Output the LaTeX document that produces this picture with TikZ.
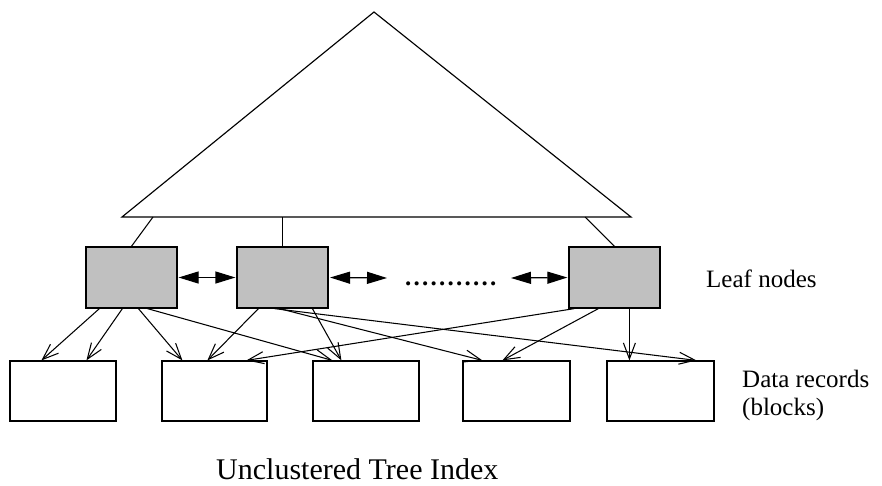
\documentclass[tikz,border=0pt]{standalone}
\usepackage{fontspec}
\setmainfont{Liberation Serif}
\usetikzlibrary{arrows.meta}
\newcommand\sdot{.\kern2.25pt}
\begin{document}
\begin{tikzpicture}[x=1pt,y=-1pt,
  leafbox/.style={draw=black,line width=1.2pt,fill={rgb,255:red,192;green,192;blue,192},minimum width=91pt,minimum height=61pt,inner sep=0pt},
  databox/.style={draw=black,line width=1.2pt,fill=white,minimum height=60pt,inner sep=0pt},
  ptr/.style={line width=1.05pt,-{Straight Barb[length=16pt,width=12pt,line width=1.05pt]}},
  sib/.style={line width=1.2pt,{Triangle[length=20pt,width=12pt]}-{Triangle[length=20pt,width=12pt]}},
  lbl/.style={inner sep=0pt,anchor=base west,font=\fontsize{25}{28}\selectfont}
  ]
\useasboundingbox (0,0) rectangle (882,485);
% tree triangle
\coordinate (apex) at (374,12);
\coordinate (bl) at (122,217);
\coordinate (br) at (631,217);
\draw[line width=1.15pt,line join=miter] (apex) -- (bl) -- (br) -- cycle;
% leaf nodes
\node[leafbox] (L1) at (131.5,277.5) {};
\node[leafbox] (L2) at (282.5,277.5) {};
\node[leafbox] (L3) at (614.5,277.5) {};
% links from tree to leaves
\coordinate (t1) at (153,217);
\coordinate (t2) at (282.5,217);
\coordinate (t3) at (585,217);
\draw[line width=1.05pt] (t1) -- ([xshift=46pt]L1.north west);
\draw[line width=1.05pt] (t2) -- (L2.north);
\draw[line width=1.05pt] (t3) -- (L3.north);
% data boxes
\node[databox,minimum width=106pt] (D1) at (63,391) {};
\node[databox,minimum width=105pt] (D2) at (214.5,391) {};
\node[databox,minimum width=106pt] (D3) at (366,391) {};
\node[databox,minimum width=107pt] (D4) at (516.5,391) {};
\node[databox,minimum width=107pt] (D5) at (660.5,391) {};
% sibling arrows
\coordinate (s2) at (387,278);
\coordinate (s3) at (511,278);
\draw[sib,shorten <=1pt,shorten >=1pt] (L1.east) -- (L2.west);
\draw[sib,shorten <=1.5pt] (L2.east) -- (s2);
\draw[sib,shorten >=1pt] (s3) -- (L3.west);
\node[inner sep=0pt,anchor=base west,font=\fontsize{25}{28}\selectfont\bfseries] (dots) at (405,285.5) {\sdot\sdot\sdot\sdot\sdot\sdot\sdot\sdot\sdot\sdot.};
% pointers leaf -> data
\draw[ptr] ([xshift=14pt]L1.south west) -- ([xshift=32pt]D1.north west);
\draw[ptr] ([xshift=37pt]L1.south west) -- ([xshift=77pt]D1.north west);
\draw[ptr] ([xshift=53pt]L1.south west) -- ([xshift=21pt]D2.north west);
\draw[ptr] ([xshift=62pt]L1.south west) -- ([xshift=20pt]D3.north west);
\draw[ptr] ([xshift=22pt]L2.south west) -- ([xshift=46pt]D2.north west);
\draw[ptr] ([xshift=76pt]L2.south west) -- ([xshift=29pt]D3.north west);
\draw[ptr] ([xshift=38pt]L2.south west) -- ([xshift=90pt]D5.north west);
\draw[ptr] ([xshift=43pt]L2.south west) -- ([xshift=20pt]D4.north west);
\draw[ptr] ([xshift=6pt]L3.south west) -- ([xshift=85pt]D2.north west);
\draw[ptr] ([xshift=30pt]L3.south west) -- ([xshift=40pt]D4.north west);
\draw[ptr] ([xshift=61pt]L3.south west) -- ([xshift=23pt]D5.north west);
% labels
\node[lbl] (leaflbl) at (706,287) {Leaf nodes};
\node[lbl] (datalbl) at (742,387) {Data records};
\node[lbl] (blklbl) at (742,415) {(blocks)};
\node[inner sep=0pt,anchor=base west,font=\fontsize{30}{34}\selectfont] (title) at (216,479) {Unclustered Tree Index};
\end{tikzpicture}
\end{document}
